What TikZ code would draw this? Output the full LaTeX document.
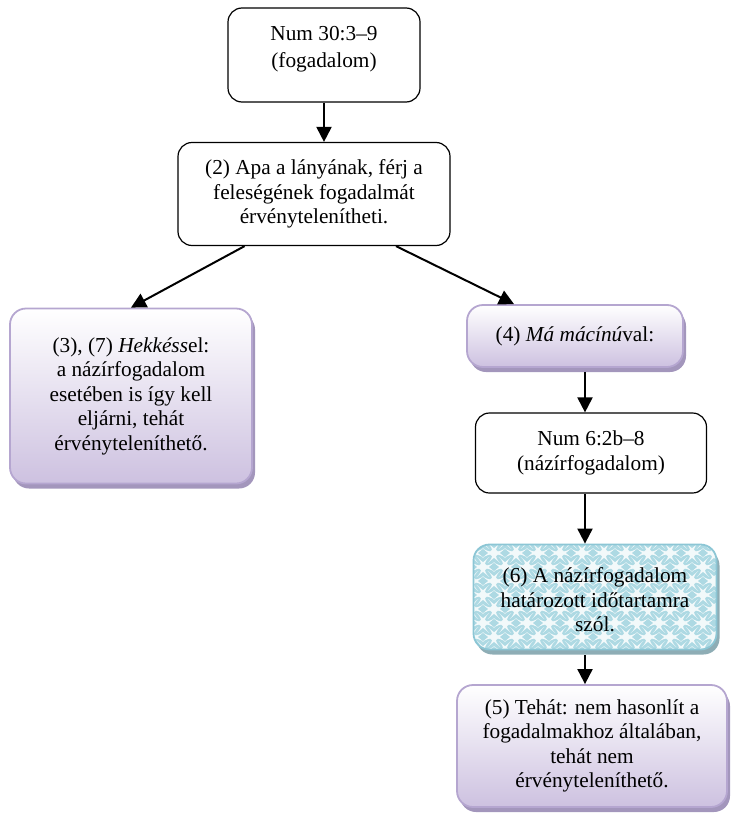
\documentclass[tikz,border=0pt]{standalone}
\usepackage{fontspec}
\setmainfont{Liberation Serif}
\usetikzlibrary{arrows.meta,shadows,calc}

\definecolor{lilacfill}{HTML}{CDC1E0}
\definecolor{lilacdraw}{HTML}{B5A6D0}
\definecolor{lilacshadow}{HTML}{A396BC}
\definecolor{aquafill}{HTML}{ADD9E3}
\definecolor{aquadraw}{HTML}{8CC6D5}
\definecolor{aquashadow}{HTML}{8EADB5}

\tikzset{
  every node/.style={font=\fontsize{21.3}{24.5}\selectfont, align=center, inner sep=0pt},
  plainbox/.style={draw=black, line width=1.2pt, fill=white, rounded corners=14pt},
  lilacbox/.style={draw=lilacdraw, line width=1.8pt, rounded corners=16pt,
    top color=white, bottom color=lilacfill,
    drop shadow={shadow xshift=3pt, shadow yshift=-5pt, fill=lilacshadow, opacity=1}},
  aquabox/.style={draw=aquadraw, line width=1.8pt, rounded corners=16pt, fill=aquafill,
    drop shadow={shadow xshift=3pt, shadow yshift=-5pt, fill=aquashadow, opacity=1}},
  diamondtile/.style={fill=white, opacity=0.85},
  link/.style={line width=2pt, -{Triangle[length=15pt,width=15pt]}},
}

\begin{document}
\begin{tikzpicture}[x=1pt,y=-1pt]
\useasboundingbox (0,0) rectangle (731,827);

% top: vow passage
\node[plainbox, minimum width=192pt, minimum height=94pt] (vow) at (324,55) {};
\node (vowtext) at (324,49) {Num 30:3--9\\[2pt](fogadalom)};

\node[plainbox, minimum width=272pt, minimum height=103pt] (annul) at (314,194)
  {(2) Apa a lányának, férj a\\feleségének fogadalmát\\érvénytelenítheti.};

% left branch
\node[lilacbox, minimum width=242pt, minimum height=175pt] (hekkes) at (131,396)
  {(3), (7) \textit{Hekkéss}el:\\a názírfogadalom\\esetében is így kell\\eljárni, tehát\\érvényteleníthető.};

% right branch
\node[lilacbox, minimum width=216pt, minimum height=62pt] (mamacinu) at (575,336)
  {(4) \textit{Má mácínú}val:};

\node[plainbox, minimum width=231pt, minimum height=80pt] (nazir) at (591,453)
  {Num 6:2b--8\\(názírfogadalom)};

% diamond-patterned box; path picture coordinates are relative to the node centre
\node[aquabox, minimum width=243pt, minimum height=105pt,
  path picture={
    \foreach \i in {-6,...,6}{
      \foreach \j in {-4,...,4}{
        \fill[diamondtile] (22*\i-2,28*\j-2) +(0,-4.8) -- +(5.8,0) -- +(0,4.8) -- +(-5.8,0) -- cycle;
        \fill[diamondtile] (22*\i+9,28*\j+12) +(0,-4.8) -- +(5.8,0) -- +(0,4.8) -- +(-5.8,0) -- cycle;
      }
    }
  }] (period) at (595,597) {};
\node (periodtext) at (595,600) {(6) A názírfogadalom\\határozott időtartamra\\szól.};

\node[lilacbox, minimum width=270pt, minimum height=122pt] (conclusion) at (592,746)
  {(5) Tehát: nem hasonlít a\\fogadalmakhoz általában,\\tehát nem\\érvényteleníthető.};

% connectors
\coordinate (spine) at (585,0);
\draw[link] (vow.south) -- (annul.north -| vow.south);
\draw[link] ($(annul.south west)!0.246!(annul.south east)$) -- (hekkes.north);
\draw[link] ($(annul.south west)!0.8!(annul.south east)$) -- ($(mamacinu.north west)!0.22!(mamacinu.north east)$);
\draw[link] ([yshift=-4pt]mamacinu.south -| spine) -- (nazir.north -| spine);
\draw[link] (nazir.south -| spine) -- (period.north -| spine);
\draw[link] ([yshift=-5pt]period.south -| spine) -- (conclusion.north -| spine);
\end{tikzpicture}
\end{document}
